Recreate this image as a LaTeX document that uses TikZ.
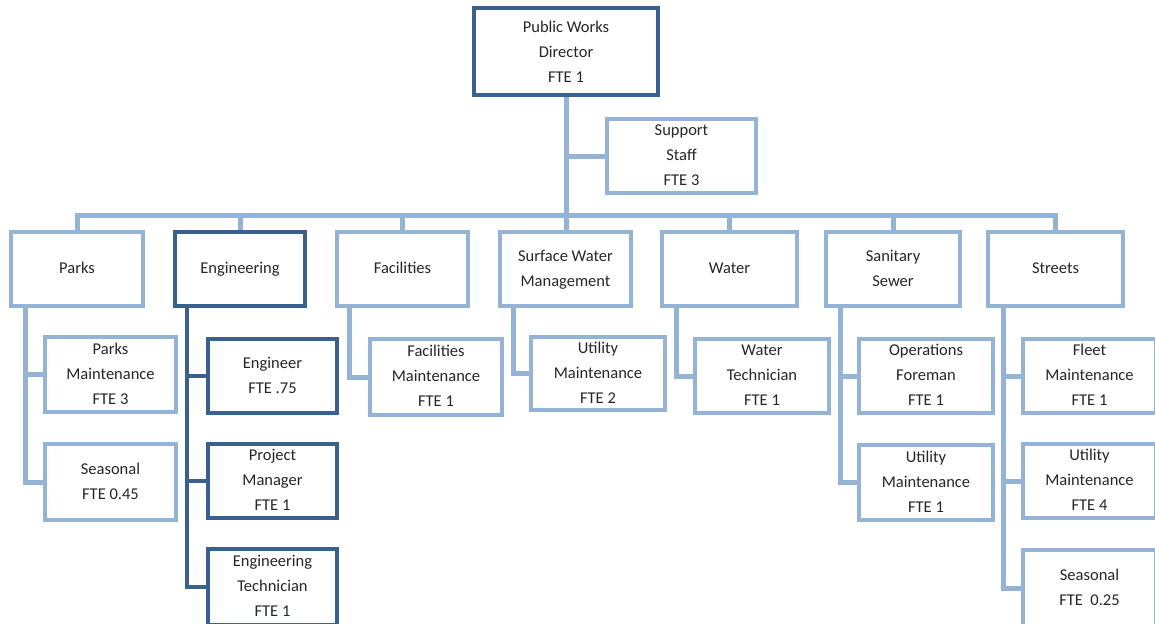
\documentclass[tikz,border=0pt]{standalone}
\usepackage{fontspec}
\setmainfont{Carlito}
\usetikzlibrary{backgrounds}
\definecolor{lightb}{HTML}{95B3D7}
\definecolor{darkb}{HTML}{3A6090}
\begin{document}
\begin{tikzpicture}[x=1pt,y=-1pt,
  box/.style={draw=lightb,line width=3.5pt,fill=white,inner sep=0pt,
    align=center,font=\fontsize{16.5}{25}\selectfont,text=black!85,text depth=2pt},
  dbox/.style={box,draw=darkb,line width=4pt},
  lconn/.style={draw=lightb,line width=5pt},
  dconn/.style={draw=darkb,line width=4.5pt}]
\clip (0,0) rectangle (1155,623);
\useasboundingbox (0,0) rectangle (1155,623);
% top
\node[dbox,minimum width=184pt,minimum height=87pt,text depth=0pt] (dir) at (566,51.5) {Public Works\\Director\\FTE 1};
\node[box,minimum width=149pt,minimum height=74pt] (sup) at (681.5,156) {Support\\Staff\\FTE 3};
% level 1
\node[box,minimum width=132pt,minimum height=74pt] (parks) at (77,269) {Parks};
\node[dbox,minimum width=130pt,minimum height=74pt] (eng) at (240,269) {Engineering};
\node[box,minimum width=131pt,minimum height=74pt] (fac) at (402.5,269) {Facilities};
\node[box,minimum width=131pt,minimum height=74pt] (swm) at (565.5,269) {Surface Water\\Management};
\node[box,minimum width=135pt,minimum height=74pt] (wat) at (729.5,269) {Water};
\node[box,minimum width=134pt,minimum height=74pt] (san) at (893,269) {Sanitary\\Sewer};
\node[box,minimum width=135pt,minimum height=74pt] (str) at (1055.5,269) {Streets};
% level 2
\node[box,minimum width=131pt,minimum height=75pt] (pm) at (110.5,374.5) {Parks\\Maintenance\\FTE 3};
\node[box,minimum width=131pt,minimum height=76pt] (ps) at (110.5,482) {Seasonal\\FTE 0.45};
\node[dbox,minimum width=129pt,minimum height=74pt] (en) at (272.5,376) {Engineer\\FTE .75};
\node[dbox,minimum width=129pt,minimum height=74pt] (pj) at (272.5,481) {Project\\Manager\\FTE 1};
\node[dbox,minimum width=129pt,minimum height=76pt] (et) at (272.5,587) {Engineering\\Technician\\FTE 1};
\node[box,minimum width=132pt,minimum height=76pt] (fm) at (436,377) {Facilities\\Maintenance\\FTE 1};
\node[box,minimum width=134pt,minimum height=73pt] (um) at (598,373.5) {Utility\\Maintenance\\FTE 2};
\node[box,minimum width=134pt,minimum height=74pt] (wt) at (762,376) {Water\\Technician\\FTE 1};
\node[box,minimum width=134pt,minimum height=74pt] (of) at (926,376) {Operations\\Foreman\\FTE 1};
\node[box,minimum width=134pt,minimum height=75pt] (su) at (926,482.5) {Utility\\Maintenance\\FTE 1};
\node[box,minimum width=133pt,minimum height=74pt] (fl) at (1089.5,376) {Fleet\\Maintenance\\FTE 1};
\node[box,minimum width=133pt,minimum height=74pt] (sm) at (1089.5,481) {Utility\\Maintenance\\FTE 4};
\node[box,minimum width=133pt,minimum height=76pt] (ss) at (1089.5,588) {Seasonal\\FTE~ 0.25};
% helper coordinates
\coordinate (bar) at (566,215);
\coordinate (xp) at (25,0);
\coordinate (xe) at (187,0);
\coordinate (xf) at (349,0);
\coordinate (xs) at (513,0);
\coordinate (xw) at (676,0);
\coordinate (xn) at (840,0);
\coordinate (xt) at (1003,0);
\begin{scope}[on background layer]
\draw[lconn] (dir.south) -- (dir.south |- swm.north);
\draw[lconn] (dir.south |- sup.west) -- (sup.west);
\draw[lconn] (parks.north) |- (bar) -| (str.north);
\foreach \n in {eng,fac,wat,san} \draw[lconn] (\n.north) -- (\n.north |- bar);
% children
\draw[lconn] (parks.south -| xp) |- (ps.west);
\draw[lconn] (pm.west) -- (pm.west -| xp);
\draw[dconn] (eng.south -| xe) |- (et.west);
\draw[dconn] (en.west) -- (en.west -| xe);
\draw[dconn] (pj.west) -- (pj.west -| xe);
\draw[lconn] (fac.south -| xf) |- (fm.west);
\draw[lconn] (swm.south -| xs) |- (um.west);
\draw[lconn] (wat.south -| xw) |- (wt.west);
\draw[lconn] (san.south -| xn) |- (su.west);
\draw[lconn] (of.west) -- (of.west -| xn);
\draw[lconn] (str.south -| xt) |- (ss.west);
\draw[lconn] (fl.west) -- (fl.west -| xt);
\draw[lconn] (sm.west) -- (sm.west -| xt);
\end{scope}
\end{tikzpicture}
\end{document}
